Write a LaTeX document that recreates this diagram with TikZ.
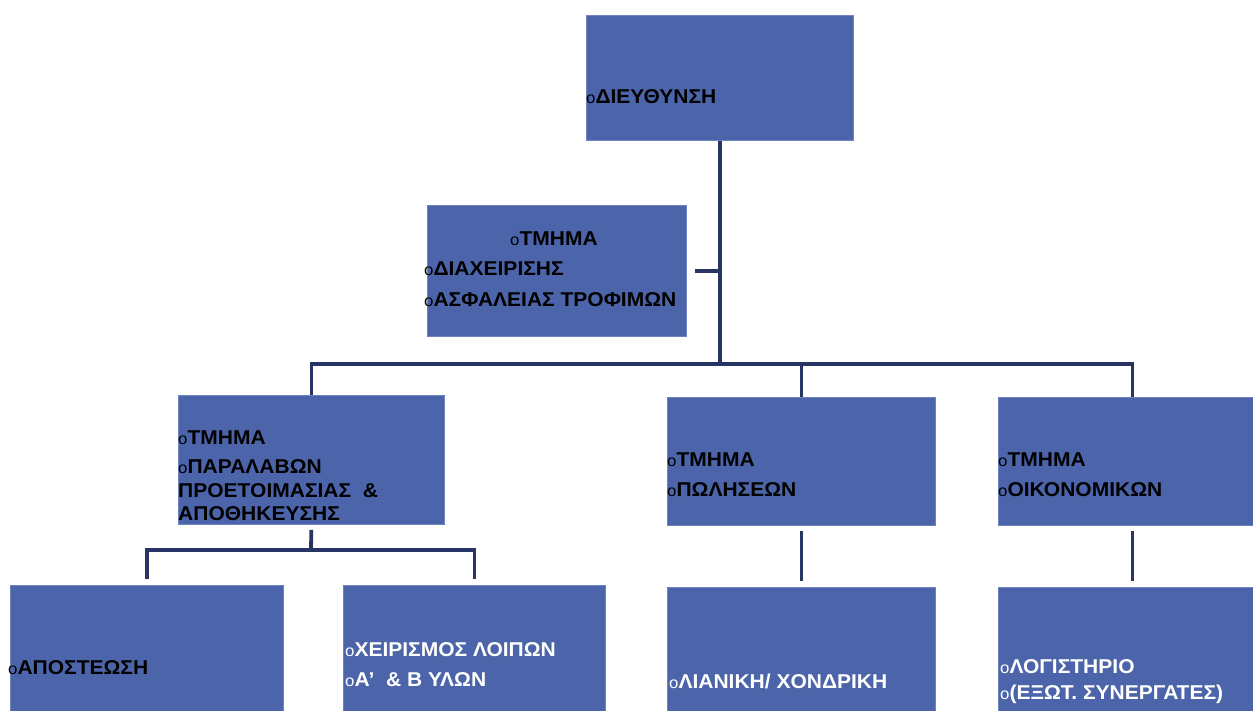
\documentclass[tikz,border=0pt]{standalone}
\usepackage{fontspec}
\setmainfont[FakeStretch=1.05]{Liberation Sans}
\definecolor{boxblue}{RGB}{76,101,170}
\definecolor{boxedge}{RGB}{110,130,190}
\definecolor{linenavy}{RGB}{40,52,100}
\tikzset{
  orgbox/.style={fill=boxblue, draw=boxedge, line width=0.8pt, inner sep=0pt, anchor=north west},
  lbl/.style={anchor=base west, inner sep=0pt, font=\fontsize{20}{20}\selectfont\bfseries, text=black},
  wlbl/.style={lbl, text=white},
  conn/.style={draw=linenavy, line width=3.8pt},
}
\newcommand{\bul}{{\fontsize{16}{16}\selectfont\mdseries o}}
\begin{document}
\begin{tikzpicture}[x=1pt,y=-1pt]
\fill[white] (0,0) rectangle (1253,711);
\useasboundingbox (0,0) rectangle (1253,711);
% boxes
\node[orgbox, minimum width=267pt, minimum height=125pt] (top) at (586,15) {};
\node[orgbox, minimum width=259pt, minimum height=131pt] (sec) at (427,205) {};
\node[orgbox, minimum width=266pt, minimum height=129pt] (l2a) at (178,395) {};
\node[orgbox, minimum width=268pt, minimum height=128pt] (l2b) at (667,397) {};
\node[orgbox, minimum width=268pt, minimum height=128pt] (l2c) at (998,397) {};
\node[orgbox, minimum width=273pt, minimum height=135pt] (l3a) at (10,585) {};
\node[orgbox, minimum width=262pt, minimum height=135pt] (l3b) at (343,585) {};
\node[orgbox, minimum width=268pt, minimum height=135pt] (l3c) at (667,587) {};
\node[orgbox, minimum width=268pt, minimum height=135pt] (l3d) at (998,587) {};
% connectors
\coordinate (bus1) at (718,364);
\coordinate (bus2) at (311,550);
\draw[conn] (top.south) -- (top.south |- bus1);
\draw[conn] ([xshift=8pt]sec.east) -- (sec.east -| bus1);
\draw[conn] (l2a.north) |- (bus1) -| (l2c.north);
\draw[conn] (l2b.north) -- (l2b.north |- bus1);
\draw[conn, shorten <=5pt] (l2a.south) -- (bus2);
\draw[conn, shorten <=6pt, shorten >=6pt] (l3a.north) |- (bus2) -| (l3b.north);
\draw[conn, shorten <=5pt, shorten >=6pt] (l2b.south) -- (l3c.north);
\draw[conn, shorten <=5pt, shorten >=6pt] (l2c.south) -- (l3d.north);
% labels
\node[lbl] (ttop) at (586,104) {\bul ΔΙΕΥΘΥΝΣΗ};
\node[lbl] (ts1) at (510,246) {\bul ΤΜΗΜΑ};
\node[lbl] (ts2) at (424,276) {\bul ΔΙΑΧΕΙΡΙΣΗΣ};
\node[lbl] (ts3) at (424,307) {\bul ΑΣΦΑΛΕΙΑΣ ΤΡΟΦΙΜΩΝ};
\node[lbl] (ta1) at (178,444) {\bul ΤΜΗΜΑ};
\node[lbl] (ta2) at (178,473) {\bul ΠΑΡΑΛΑΒΩΝ};
\node[lbl] (ta3) at (178,497) {ΠΡΟΕΤΟΙΜΑΣΙΑΣ \ \&};
\node[lbl] (ta4) at (178,520) {ΑΠΟΘΗΚΕΥΣΗΣ};
\node[lbl] (tb1) at (667,466) {\bul ΤΜΗΜΑ};
\node[lbl] (tb2) at (667,496) {\bul ΠΩΛΗΣΕΩΝ};
\node[lbl] (tc1) at (998,466) {\bul ΤΜΗΜΑ};
\node[lbl] (tc2) at (998,496) {\bul ΟΙΚΟΝΟΜΙΚΩΝ};
\node[lbl] (td1) at (8,674) {\bul ΑΠΟΣΤΕΩΣΗ};
\node[wlbl] (te1) at (345,656) {\bul ΧΕΙΡΙΣΜΟΣ ΛΟΙΠΩΝ};
\node[wlbl] (te2) at (345,686) {\bul Α'\ \ \& Β ΥΛΩΝ};
\node[wlbl] (tf1) at (669,688) {\bul ΛΙΑΝΙΚΗ/ ΧΟΝΔΡΙΚΗ};
\node[wlbl] (tg1) at (1000,673) {\bul ΛΟΓΙΣΤΗΡΙΟ};
\node[wlbl] (tg2) at (1000,699) {\bul (ΕΞΩΤ. ΣΥΝΕΡΓΑΤΕΣ)};
\end{tikzpicture}
\end{document}
